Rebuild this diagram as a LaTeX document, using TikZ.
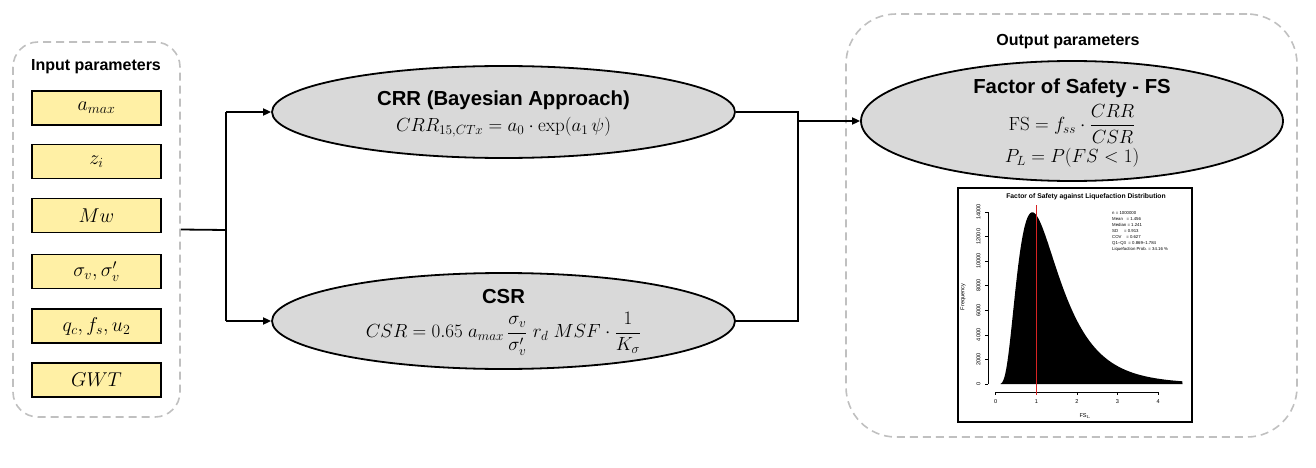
\RequirePackage{fix-cm}
\documentclass[tikz,border=0pt]{standalone}
\usepackage{amsmath}
\usepackage{fontspec}
\setsansfont{Liberation Sans}
\usetikzlibrary{shapes.geometric,arrows.meta}
\definecolor{boxyellow}{RGB}{255,240,165}
\definecolor{ellgray}{RGB}{217,217,217}
\definecolor{dashgray}{RGB}{192,192,192}
\definecolor{histred}{RGB}{215,35,35}
\begin{document}
\begin{tikzpicture}[x=1pt,y=-1pt,
  container/.style={draw=dashgray, line width=1.6pt, dash pattern=on 8pt off 5pt, rectangle, inner sep=0pt},
  parbox/.style={draw=black, line width=1.4pt, fill=boxyellow, minimum width=129pt, minimum height=34pt, inner sep=0pt, font=\fontsize{20}{22}\selectfont},
  ell/.style={ellipse, draw=black, line width=1.8pt, fill=ellgray, inner sep=0pt},
  ttl/.style={font=\sffamily\bfseries\fontsize{20.3}{24}\selectfont, inner sep=0pt},
  frm/.style={font=\fontsize{19}{22}\selectfont, inner sep=0pt},
  hdr/.style={font=\sffamily\bfseries\fontsize{16}{18}\selectfont, inner sep=0pt},
  conn/.style={line width=1.8pt},
  arr/.style={conn, -{Triangle[length=8pt,width=7pt]}},
  tiny/.style={font=\sffamily\fontsize{5.6}{6}\selectfont, inner sep=0pt},
]
\useasboundingbox (0,0) rectangle (1316,468);

% ---------------- input block ----------------
\node[container, rounded corners=25pt, minimum width=167pt, minimum height=375pt] (inp) at (96.5,229.5) {};
\node[hdr] (inpT) at (96,67) {Input parameters};
\node[parbox] (p1) at (96.5,108) {$a_{max}$};
\node[parbox] (p2) at (96.5,161.5) {$z_i$};
\node[parbox] (p3) at (96.5,215.5) {$Mw$};
\node[parbox] (p4) at (96.5,271.5) {$\sigma_v, \sigma'_v$};
\node[parbox] (p5) at (96.5,326) {$q_c, f_s, u_2$};
\node[parbox] (p6) at (96.5,380) {$GWT$};

% ---------------- CRR / CSR ----------------
\node[ell, minimum width=463pt, minimum height=92pt] (crr) at (503.5,112) {};
\node[ttl] (crrT) at (503.5,100) {CRR (Bayesian Approach)};
\node[frm] (crrF) at (503.5,127) {$CRR_{15,CTx} = a_0 \cdot \exp(a_1\,\psi)$};

\node[ell, minimum width=463pt, minimum height=96pt] (csr) at (503.5,321) {};
\node[ttl] (csrT) at (503.5,297) {CSR};
\node[frm] (csrF) at (503.5,334) {$CSR = 0.65\;a_{max}\,\dfrac{\sigma_v}{\sigma'_v}\;r_d\;MSF\cdot\dfrac{1}{K_\sigma}$};

% ---------------- output block ----------------
\node[container, rounded corners=50pt, minimum width=451pt, minimum height=423pt] (outp) at (1071.5,225.5) {};
\node[hdr] (outT) at (1068,42) {Output parameters};
\node[ell, minimum width=422pt, minimum height=120pt] (fs) at (1072,121) {};
\node[ttl] (fsT) at (1072,88) {Factor of Safety - FS};
\node[frm] (fsF) at (1072,124) {$\mathrm{FS} = f_{ss}\cdot\dfrac{CRR}{CSR}$};
\node[frm] (fsP) at (1072,158) {$P_L = P(FS < 1)$};

% ---------------- connectors ----------------
\coordinate (j1) at (226,230);
\coordinate (j2) at (798,112);
\draw[conn] (inp.east) -- (j1);
\draw[conn] (j1 |- crr.west) -- (j1 |- csr.west);
\draw[arr] (j1 |- crr.west) -- (crr.west);
\draw[arr] (j1 |- csr.west) -- (csr.west);
\draw[conn] (crr.east) -- (j2 |- crr.east) -- (j2 |- csr.east) -- (csr.east);
\draw[arr] (j2 |- fs.west) -- (fs.west);

% ---------------- histogram figure ----------------
\node[draw=black, line width=1.2pt, fill=white, minimum width=234pt, minimum height=234pt, inner sep=0pt] (hist) at (1075,305) {};
\node[font=\sffamily\bfseries\fontsize{6.8}{8}\selectfont, inner sep=0pt] (histT) at (1086,197) {Factor of Safety against Liquefaction Distribution};
\fill[black] (1000.6,384) -- plot[domain=0.12:4.6, samples=240] ({995.7+40.6*\x},{384-172*exp(-((ln(\x)-0.216)*(ln(\x)-0.216))/0.639)/\x/0.947}) -- (1182.5,384) -- cycle;
% axes
\draw[line width=0.5pt] (988,384) -- (988,212);
\draw[line width=0.5pt] (995.7,392) -- (1158.1,392);
\foreach \i in {0,...,4} {
  \draw[line width=0.5pt] (995.7+40.6*\i,392) -- ++(0,3);
  \node[tiny] (xt\i) at (995.7+40.6*\i,402) {\i};
}
\foreach \v [count=\k from 0] in {0,2000,4000,6000,8000,10000,12000,14000} {
  \draw[line width=0.5pt] (988,384-24.571*\k) -- ++(-3,0);
  \node[tiny, rotate=90] (yt\k) at (978.5,384-24.571*\k) {\v};
}
\node[tiny, rotate=90] (yl) at (963,297) {Frequency};
\node[tiny] (xl) at (1085,416) {FS$_{\mathrm{L}}$};
\draw[histred, line width=1pt] (1036.3,205) -- (1036.3,395);
\node[font=\sffamily\fontsize{4.3}{6.1}\selectfont, align=left, anchor=north west, inner sep=0pt] (stats) at (1112,211)
 {n = 1000000\\Mean\ \ \ = 1.456\\Median = 1.241\\SD\ \ \ \ \ = 0.913\\COV\ \ \ \ = 0.627\\Q1--Q3\ \ = 0.869--1.784\\Liquefaction Prob. = 34.16 \%};
\end{tikzpicture}
\end{document}
